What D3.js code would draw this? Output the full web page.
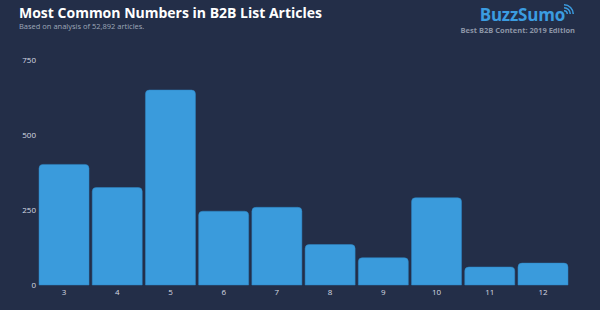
<!DOCTYPE html>
<html lang="en">
<head>
  <meta charset="UTF-8">
  <title>Most Common Numbers in B2B List Articles</title>
  <script src="https://d3js.org/d3.v7.min.js"></script>
  <style>
    body {
      margin: 0;
      background-color: #232e48;
      font-family: "Open Sans", Arial, sans-serif;
    }
    svg { display: block; }
    .tick text { fill: #d6dae2; font-size: 8px; font-family: "Open Sans", Arial, sans-serif; }
  </style>
</head>
<body>
  <div id="chart"></div>

  <script>
    // data
    const categories = ['3', '4', '5', '6', '7', '8', '9', '10', '11', '12'];
    const counts = [402, 325, 650, 246, 259, 135, 91, 291, 60, 73];
    const yTicks = [0, 250, 500, 750];

    const width = 600, height = 310;
    const margin = { top: 60, right: 32, bottom: 25, left: 39 };

    const svg = d3.select('#chart')
      .append('svg')
      .attr('width', width)
      .attr('height', height);

    svg.append('rect')
      .attr('width', width)
      .attr('height', height)
      .attr('fill', '#232e48');

    // title block
    svg.append('text')
      .attr('x', 19)
      .attr('y', 18)
      .attr('fill', '#ffffff')
      .style('font-size', '14px')
      .style('font-weight', 'bold')
      .text('Most Common Numbers in B2B List Articles');

    svg.append('text')
      .attr('x', 19)
      .attr('y', 28.5)
      .attr('fill', '#9ea7b8')
      .style('font-size', '7.5px')
      .text('Based on analysis of 52,892 articles.');

    // logo
    const logo = svg.append('g');
    logo.append('text')
      .attr('x', 565)
      .attr('y', 21)
      .attr('text-anchor', 'end')
      .attr('fill', '#3b9ce0')
      .style('font-size', '17px')
      .style('font-weight', 'bold')
      .style('letter-spacing', '-0.2px')
      .text('BuzzSumo');

    // little signal waves on the last "o"
    [4, 7, 10].forEach(r => {
      logo.append('path')
        .attr('d', d3.arc()
          .innerRadius(r - 1.5)
          .outerRadius(r)
          .startAngle(0)
          .endAngle(Math.PI / 2)())
        .attr('transform', 'translate(564,14)')
        .attr('fill', '#3b9ce0');
    });

    logo.append('text')
      .attr('x', 575)
      .attr('y', 32.5)
      .attr('text-anchor', 'end')
      .attr('fill', '#8c95a6')
      .style('font-size', '7.5px')
      .style('font-weight', 'bold')
      .text('Best B2B Content: 2019 Edition');

    const x = d3.scaleBand()
      .domain(categories)
      .range([margin.left, width - margin.right])
      .paddingInner(0.06)
      .paddingOuter(0);

    const y = d3.scaleLinear()
      .domain([0, 750])
      .range([height - margin.bottom, margin.top]);

    // y axis labels only
    const yAxis = svg.append('g')
      .attr('transform', `translate(${margin.left - 2},0)`)
      .call(d3.axisLeft(y).tickValues(yTicks).tickSize(0).tickPadding(1));
    yAxis.select('.domain').remove();

    const xAxis = svg.append('g')
      .attr('transform', `translate(0,${height - margin.bottom})`)
      .call(d3.axisBottom(x).tickSize(0).tickPadding(4));
    xAxis.select('.domain').remove();

    // bars with rounded top corners
    const r = 4;
    function barPath(x0, w, yTop, yBase) {
      return `M${x0},${yBase}V${yTop + r}Q${x0},${yTop} ${x0 + r},${yTop}` +
        `H${x0 + w - r}Q${x0 + w},${yTop} ${x0 + w},${yTop + r}V${yBase}Z`;
    }

    svg.append('g')
      .selectAll('path')
      .data(counts)
      .enter()
      .append('path')
      .attr('d', (d, i) => barPath(x(categories[i]), x.bandwidth(), y(d), y(0)))
      .attr('fill', '#3a9bdc')
      .attr('stroke', '#2f86c4')
      .attr('stroke-width', 0.5);
  </script>
</body>
</html>
